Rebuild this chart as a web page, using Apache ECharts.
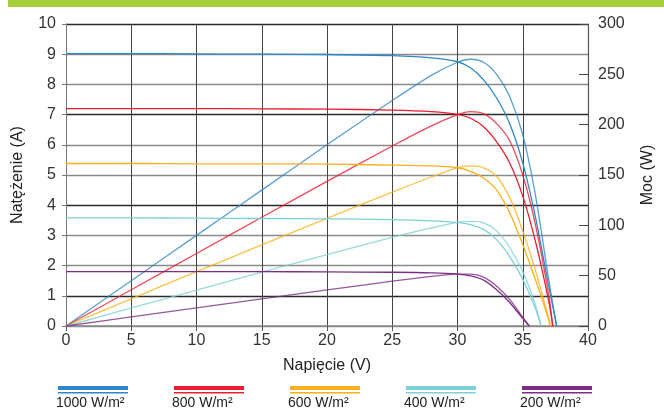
<!DOCTYPE html>
<html>
<head>
<meta charset="utf-8">
<script src="https://cdn.jsdelivr.net/npm/echarts@6/dist/echarts.min.js"></script>
<style>
html,body{margin:0;padding:0;background:#fff;}
#c{width:664px;height:411px;}
</style>
</head>
<body>
<div id="c"></div>
<script>
// ---- data ----
const VOLTS = [0, 5, 10, 15, 20, 25, 28, 30, 31, 32, 33, 34, 35, 36, 37];
const X_TICKS = [0, 5, 10, 15, 20, 25, 30, 35, 40];

const LABELS = ['1000 W/m²', '800 W/m²', '600 W/m²', '400 W/m²', '200 W/m²'];
const COLORS = ['#2f87c8', '#ed1c2e', '#fbb01b', '#7dd0d6', '#7b2e83'];

const VOC = [37.6, 37.3, 37.1, 36.4, 35.5];

const I_1000 = [9.02, 9.02, 9.01, 9.0, 8.99, 8.95, 8.88, 8.75, 8.55, 8.15, 7.55, 6.7, 5.4, 3.55, 1.3];
const I_800  = [7.2, 7.2, 7.2, 7.19, 7.18, 7.15, 7.1, 7.01, 6.88, 6.6, 6.1, 5.4, 4.3, 2.75, 0.8];
const I_600  = [5.38, 5.38, 5.37, 5.37, 5.36, 5.33, 5.3, 5.24, 5.12, 4.9, 4.5, 3.75, 2.7, 1.5, 0.2];
const I_400  = [3.58, 3.58, 3.57, 3.56, 3.55, 3.52, 3.48, 3.43, 3.36, 3.2, 2.86, 2.3, 1.55, 0.55];
const I_200  = [1.8, 1.8, 1.8, 1.8, 1.79, 1.78, 1.76, 1.72, 1.66, 1.52, 1.2, 0.78, 0.25];

const P_1000 = [0, 45, 90, 135, 180, 224, 249, 262, 265, 262, 250, 228, 190, 128, 45];
const P_800  = [0, 36, 72, 108, 143.6, 178.8, 198.8, 210, 213, 211, 201, 184, 150, 99, 30];
const P_600  = [0, 27, 54, 80.5, 107, 133, 148, 157, 159, 157, 148.5, 127.5, 94.5, 54, 7];
const P_400  = [0, 17.9, 35.7, 53.4, 71, 88, 97.4, 103, 104, 102.5, 94.5, 78, 54, 20];
const P_200  = [0, 9, 18, 27, 35.8, 44.5, 49.3, 51.6, 51.5, 48.6, 39.6, 26.5, 8.75];

const CURRENTS = [I_1000, I_800, I_600, I_400, I_200];
const POWERS = [P_1000, P_800, P_600, P_400, P_200];

// ---- build ----
function pairs(vals, voc) {
  const d = vals.map((v, i) => [VOLTS[i], v]);
  d.push([voc, 0]);
  return d;
}

const series = [];
LABELS.forEach((name, k) => {
  const common = {
    type: 'line', name: name, showSymbol: false, smooth: 0.3,
    lineStyle: { width: 1.3, color: COLORS[k] }, itemStyle: { color: COLORS[k] },
    silent: true, animation: false, z: 5
  };
  series.push(Object.assign({}, common, { yAxisIndex: 0, data: pairs(CURRENTS[k], VOC[k]) }));
  series.push(Object.assign({}, common, { yAxisIndex: 1, data: pairs(POWERS[k], VOC[k]),
    lineStyle: { width: 1.3, color: COLORS[k], opacity: 0.8 } }));
});

const FONT = 'Liberation Sans, Arial, sans-serif';

const graphic = [
  { type: 'rect', left: 8, top: 0, shape: { width: 656, height: 7 }, style: { fill: '#a6cd3a' }, silent: true }
];
LABELS.forEach((name, k) => {
  const x = 58 + k * 116;
  graphic.push({ type: 'rect', left: x, top: 386, shape: { width: 70, height: 4 }, style: { fill: COLORS[k] }, silent: true });
  graphic.push({ type: 'rect', left: x, top: 392, shape: { width: 70, height: 1.5 }, style: { fill: COLORS[k] }, silent: true });
  graphic.push({ type: 'text', left: x - 2, top: 396, style: { text: name, fill: '#222', font: '14px ' + FONT }, silent: true });
});

const chart = echarts.init(document.getElementById('c'), null, { renderer: 'canvas' });
chart.setOption({
  animation: false,
  backgroundColor: '#fff',
  grid: { left: 66, right: 72, top: 24, bottom: 85, containLabel: false },
  xAxis: {
    type: 'value', min: 0, max: 40, interval: 5,
    name: 'Napięcie (V)', nameLocation: 'middle', nameGap: 32,
    nameTextStyle: { fontFamily: FONT, fontSize: 16, color: '#222' },
    axisLine: { show: true, lineStyle: { color: '#888', width: 1.5 } },
    axisTick: { show: true, length: 5, lineStyle: { color: '#555' } },
    axisLabel: { fontFamily: FONT, fontSize: 16, color: '#333', margin: 7,
      formatter: v => X_TICKS.indexOf(v) >= 0 ? String(v) : '' },
    splitLine: { show: true, lineStyle: { color: '#444', width: 1 } }
  },
  yAxis: [
    {
      type: 'value', min: 0, max: 10, interval: 1, position: 'left',
      name: 'Natężenie (A)', nameLocation: 'middle', nameGap: 40,
      nameTextStyle: { fontFamily: FONT, fontSize: 16, color: '#222' },
      axisLine: { show: true, lineStyle: { color: '#777', width: 1 } },
      axisTick: { show: true, length: 4, lineStyle: { color: '#777' } },
      axisLabel: { fontFamily: FONT, fontSize: 16, color: '#333', margin: 10 },
      splitLine: { show: true, lineStyle: { color: ['#8a8a8a', '#2a2a2a', '#8a8a8a'], width: 1.3 } }
    },
    {
      type: 'value', min: 0, max: 300, interval: 50, position: 'right',
      name: 'Moc (W)', nameLocation: 'middle', nameGap: 52,
      nameTextStyle: { fontFamily: FONT, fontSize: 16, color: '#222' },
      axisLine: { show: true, lineStyle: { color: '#555', width: 1.2 } },
      axisTick: { show: true, inside: true, length: 9, lineStyle: { color: '#444' } },
      axisLabel: { fontFamily: FONT, fontSize: 16, color: '#333', margin: 10 },
      splitLine: { show: false }
    }
  ],
  graphic: graphic,
  series: series
});
</script>
</body>
</html>
